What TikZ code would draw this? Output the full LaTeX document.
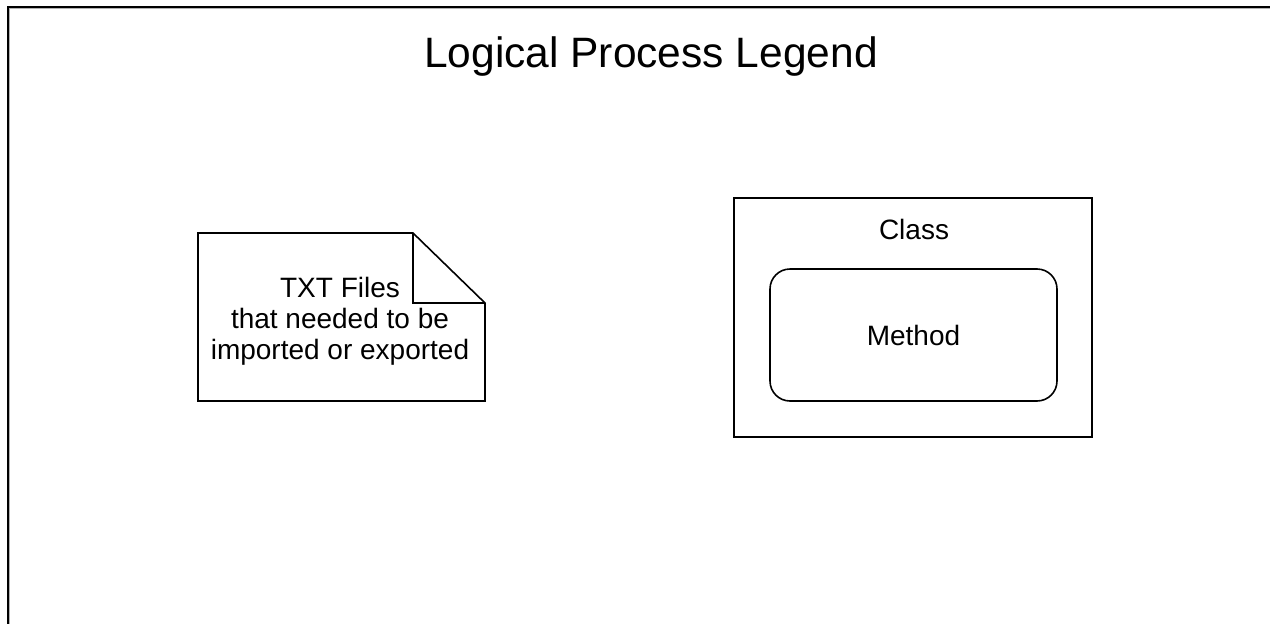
\documentclass[tikz,border=0pt]{standalone}
\usepackage{fontspec}
\setmainfont{Liberation Sans}
\begin{document}
\begin{tikzpicture}[x=1pt,y=-1pt,
  shapeline/.style={draw=black,line width=1.6pt,line join=miter},
  lbl/.style={font=\fontsize{28}{31}\selectfont,inner sep=0pt,align=center},
  ttl/.style={font=\fontsize{42.5}{46}\selectfont,inner sep=0pt}]
\useasboundingbox (0,0) rectangle (1270,624);
\fill[white] (0,0) rectangle (1270,624);
% outer frame
\draw[gray!60,line width=1.2pt] (9.6,624) -- (9.6,8.6) -- (1270,8.6);
\draw[black,line width=2.2pt] (8,624) -- (8,7) -- (1270,7);
% title
\node[ttl,anchor=base] (title) at (651,67) {Logical Process Legend};
% document shape
\coordinate (dA) at (198,233);
\coordinate (dB) at (413,233);
\coordinate (dC) at (485,303);
\coordinate (dD) at (485,401);
\coordinate (dE) at (198,401);
\coordinate (dF) at (413,303);
\draw[shapeline] (dA) -- (dB) -- (dC) -- (dD) -- (dE) -- cycle;
\draw[shapeline] (dB) -- (dF) -- (dC);
\node[lbl] (txt) at (340,321) {TXT Files\\that needed to be\\imported or exported};
% class box
\node[shapeline,minimum width=358pt,minimum height=239pt,inner sep=0pt] (class) at (913,317.5) {};
\node[lbl,anchor=base] (classlbl) at (914,239) {Class};
\node[shapeline,rounded corners=20pt,minimum width=287pt,minimum height=132pt,inner sep=0pt] (method) at (913.5,335) {};
\node[lbl] (methodlbl) at (method.center) {Method};
\end{tikzpicture}
\end{document}
